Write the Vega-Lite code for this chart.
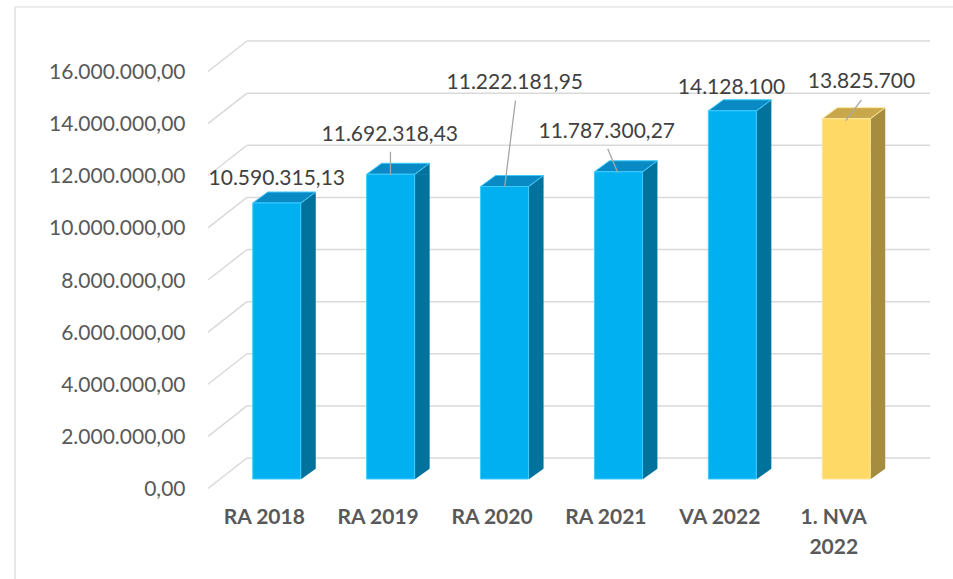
{
  "$schema": "https://vega.github.io/schema/vega-lite/v6.json",
  "width": 722,
  "height": 417,
  "autosize": {"type": "none"},
  "padding": {"left": 208, "top": 62, "right": 23, "bottom": 100},
  "background": "white",
  "config": {
    "view": {"stroke": null},
    "locale": {"number": {"decimal": ",", "thousands": ".", "grouping": [3], "currency": ["", " €"]}}
  },
  "layer": [
    {
      "data": {"values": [{"v": 0}, {"v": 2000000}, {"v": 4000000}, {"v": 6000000}, {"v": 8000000}, {"v": 10000000}, {"v": 12000000}, {"v": 14000000}, {"v": 16000000}]},
      "layer": [
        {
          "mark": {"type": "rule", "color": "#d9d9d9", "strokeWidth": 1.5, "yOffset": -21},
          "encoding": {
            "x": {"datum": 0.054, "type": "quantitative", "scale": {"domain": [0, 1], "nice": false, "zero": false}, "axis": null},
            "x2": {"datum": 1.0},
            "y": {"field": "v", "type": "quantitative", "scale": {"domain": [0, 16000000], "nice": false}, "axis": null}
          }
        },
        {
          "mark": {"type": "rule", "color": "#d9d9d9", "strokeWidth": 1.5, "yOffset": 9.5, "y2Offset": -21},
          "encoding": {
            "x": {"datum": 0, "type": "quantitative", "scale": {"domain": [0, 1], "nice": false, "zero": false}, "axis": null},
            "x2": {"datum": 0.054},
            "y": {"field": "v", "type": "quantitative", "scale": {"domain": [0, 16000000], "nice": false}, "axis": null},
            "y2": {"field": "v"}
          }
        },
        {
          "data": {"values": [{"frame": 1}]},
          "mark": {"type": "rule", "color": "#d9d9d9", "strokeWidth": 1.2},
          "encoding": {
            "x": {"datum": -0.2673, "type": "quantitative", "scale": {"domain": [0, 1], "nice": false, "zero": false}, "axis": null},
            "x2": {"datum": 1.04},
            "y": {"datum": 18110000, "type": "quantitative", "axis": null}
          }
        },
        {
          "data": {"values": [{"frame": 1}]},
          "mark": {"type": "rule", "color": "#d9d9d9", "strokeWidth": 1.2},
          "encoding": {
            "x": {"datum": -0.2673, "type": "quantitative", "scale": {"domain": [0, 1], "nice": false, "zero": false}, "axis": null},
            "y": {"datum": 18110000, "type": "quantitative", "axis": null},
            "y2": {"datum": -4000000}
          }
        }
      ]
    },
    {
      "data": {"values": [
        {"cat": "RA 2018", "value": 10590315.13, "label": "10.590.315,13"},
        {"cat": "RA 2019", "value": 11692318.43, "label": "11.692.318,43"},
        {"cat": "RA 2020", "value": 11222181.95, "label": "11.222.181,95"},
        {"cat": "RA 2021", "value": 11787300.27, "label": "11.787.300,27"},
        {"cat": "VA 2022", "value": 14128100, "label": "14.128.100"},
        {"cat": "1. NVA 2022", "value": 13825700, "label": "13.825.700"}
      ]},
      "encoding": {
        "x": {
          "field": "cat", "type": "nominal", "sort": null,
          "scale": {"type": "band", "paddingInner": 0.5, "paddingOuter": 0.4195},
          "axis": {
            "title": null, "domain": false, "ticks": false, "labelAngle": 0,
            "labelFont": "Lato", "labelFontSize": 21, "labelFontWeight": "bold", "labelColor": "#595959",
            "labelPadding": 27, "labelOffset": -20, "labelLineHeight": 30,
            "labelExpr": "datum.label == '1. NVA 2022' ? ['1. NVA', '2022'] : datum.label"
          }
        },
        "y": {
          "field": "value", "type": "quantitative",
          "scale": {"domain": [0, 16000000], "nice": false},
          "axis": {
            "title": null, "orient": "left",
            "values": [0, 2000000, 4000000, 6000000, 8000000, 10000000, 12000000, 14000000, 16000000],
            "format": ",.2f", "domain": false, "ticks": false, "grid": false,
            "labelFont": "Lato", "labelFontSize": 21, "labelColor": "#595959",
            "labelPadding": 23, "labelOffset": 10.5
          }
        }
      },
      "layer": [
        {
          "mark": {"type": "bar", "width": 15, "xOffset": 24},
          "encoding": {"color": {"condition": {"test": "datum.cat == '1. NVA 2022'", "value": "#A68C3F"}, "value": "#00729C"}}
        },
        {
          "mark": {"type": "point", "shape": "M16.5,0.5L31.5,-11L31.5,0.5Z", "size": 4, "filled": true, "opacity": 1, "strokeWidth": 0},
          "encoding": {"color": {"condition": {"test": "datum.cat == '1. NVA 2022'", "value": "#A68C3F"}, "value": "#00729C"}}
        },
        {
          "mark": {"type": "point", "shape": "M-31.5,0L16.5,0L31.5,-11L-16.5,-11Z", "size": 4, "filled": true, "opacity": 1, "strokeWidth": 1},
          "encoding": {
            "color": {"condition": {"test": "datum.cat == '1. NVA 2022'", "value": "#C9A84C"}, "value": "#0A8AC4"},
            "stroke": {"condition": {"test": "datum.cat == '1. NVA 2022'", "value": "#FFE699"}, "value": "#3CCBFF"}
          }
        },
        {
          "mark": {"type": "point", "shape": "M16.5,0.5L32.5,0.5L32.5,-11Z", "size": 4, "filled": true, "opacity": 1, "strokeWidth": 0, "color": "white"},
          "encoding": {"y": {"datum": 0, "type": "quantitative"}}
        },
        {
          "mark": {"type": "bar", "width": 48, "xOffset": -7.5, "strokeWidth": 1},
          "encoding": {
            "color": {"condition": {"test": "datum.cat == '1. NVA 2022'", "value": "#FFD966"}, "value": "#00B0F0"},
            "stroke": {"condition": {"test": "datum.cat == '1. NVA 2022'", "value": "#FFE699"}, "value": "#3CCBFF"}
          }
        },
        {
          "transform": [{"filter": "datum.cat != 'RA 2018' && datum.cat != 'VA 2022'"}],
          "mark": {"type": "point", "size": 4, "filled": false, "opacity": 1, "stroke": "#a6a6a6", "strokeWidth": 1.3},
          "encoding": {
            "shape": {
              "field": "cat", "type": "nominal", "legend": null,
              "scale": {
                "domain": ["RA 2019", "RA 2020", "RA 2021", "1. NVA 2022"],
                "range": ["M-7.7,0.5L-7.7,-22.6", "M-7.3,0L3.4,-86", "M-8.2,1L-18.2,-23", "M-8,2L7.7,-18.7"]
              }
            }
          }
        },
        {
          "transform": [{"filter": "datum.cat == 'RA 2018'"}],
          "mark": {"type": "text", "font": "Lato", "fontSize": 21, "color": "#404040", "align": "center", "baseline": "middle", "dx": -7.5, "dy": -24},
          "encoding": {"text": {"field": "label"}}
        },
        {
          "transform": [{"filter": "datum.cat == 'RA 2019'"}],
          "mark": {"type": "text", "font": "Lato", "fontSize": 21, "color": "#404040", "align": "center", "baseline": "middle", "dx": -8.4, "dy": -39.3},
          "encoding": {"text": {"field": "label"}}
        },
        {
          "transform": [{"filter": "datum.cat == 'RA 2020'"}],
          "mark": {"type": "text", "font": "Lato", "fontSize": 21, "color": "#404040", "align": "center", "baseline": "middle", "dx": 2.7, "dy": -103.5},
          "encoding": {"text": {"field": "label"}}
        },
        {
          "transform": [{"filter": "datum.cat == 'RA 2021'"}],
          "mark": {"type": "text", "font": "Lato", "fontSize": 21, "color": "#404040", "align": "center", "baseline": "middle", "dx": -19.2, "dy": -39.8},
          "encoding": {"text": {"field": "label"}}
        },
        {
          "transform": [{"filter": "datum.cat == 'VA 2022'"}],
          "mark": {"type": "text", "font": "Lato", "fontSize": 21, "color": "#404040", "align": "center", "baseline": "middle", "dx": -8.4, "dy": -22.8},
          "encoding": {"text": {"field": "label"}}
        },
        {
          "transform": [{"filter": "datum.cat == '1. NVA 2022'"}],
          "mark": {"type": "text", "font": "Lato", "fontSize": 21, "color": "#404040", "align": "center", "baseline": "middle", "dx": 7.7, "dy": -37},
          "encoding": {"text": {"field": "label"}}
        }
      ]
    }
  ],
  "resolve": {"scale": {"x": "independent"}, "axis": {"x": "independent", "y": "independent"}}
}
